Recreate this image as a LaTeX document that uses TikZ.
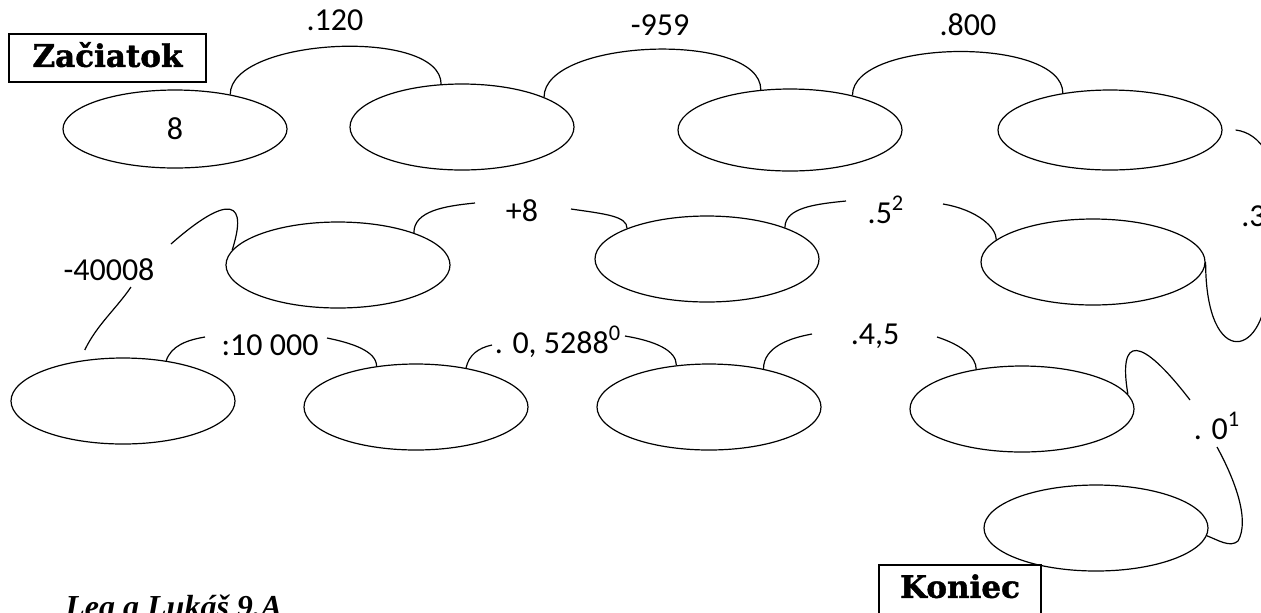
\documentclass[tikz,border=0pt]{standalone}
\usepackage{fontspec}
\setmainfont{Carlito}
\newfontfamily\boxfont{DejaVu Serif}[BoldFeatures={FakeBold=1.4}]
\newfontfamily\signfont{Liberation Serif}
\usetikzlibrary{shapes.geometric}
\begin{document}
\begin{tikzpicture}[x=0.5pt,y=-0.5pt,
  oval/.style={draw, ellipse, minimum width=112pt, minimum height=43pt, inner sep=0pt, line width=0.6pt, font=\fontsize{16}{18}\selectfont},
  link/.style={line width=0.6pt},
  lbl/.style={font=\fontsize{16}{18}\selectfont, inner sep=0pt},
  titlebox/.style={draw, line width=0.8pt, font=\boxfont\bfseries\fontsize{15.5}{18}\selectfont, inner xsep=2pt, inner ysep=4pt, anchor=north}]
\useasboundingbox (0,0) rectangle (1261,612);
% ovals
\node[oval, minimum height=39pt] (e1) at (175,129) {8};
\node[oval, minimum height=43pt] (e2) at (462,127) {};
\node[oval, minimum height=41pt] (e3) at (790,130) {};
\node[oval, minimum height=40pt] (e4) at (1110,130) {};
\node[oval] (e5) at (338,265) {};
\node[oval] (e6) at (707,259) {};
\node[oval] (e7) at (1093,262) {};
\node[oval] (e8) at (123,401) {};
\node[oval] (e9) at (416,407) {};
\node[oval] (e10) at (709,407) {};
\node[oval] (e11) at (1022,409) {};
\node[oval] (e12) at (1096,528) {};
% boxes
\node[titlebox, minimum width=98.5pt, text height=12.5pt, text depth=3.5pt] (start) at (107.5,33) {Začiatok};
\node[titlebox, minimum width=81pt, text height=12.5pt, text depth=10pt] (end) at (960,564) {Koniec};
% labels
\node[lbl] (t1) at (335,20) {.120};
\node[lbl] (t2) at (660,25) {-959};
\node[lbl] (t3) at (968,25) {.800};
\node[lbl, anchor=west] (t4) at (1241,216) {.3};
\node[lbl] (t5) at (109,270) {-40008};
\node[lbl] (t6) at (522,211) {+8};
\node[lbl] (t7) at (886,210) {.5\textsuperscript{2}};
\node[lbl] (t8) at (270,345) {:10 000};
\node[lbl] (t9) at (558,342) {. 0, 5288\textsuperscript{0}};
\node[lbl] (t10) at (875,336) {.4,5};
\node[lbl] (t11) at (1217,426) {. 0\textsuperscript{1}};
\node[anchor=base west, inner sep=0pt, font=\signfont\bfseries\itshape\fontsize{16}{20}\selectfont] (sign) at (65,617) {Lea a Lukáš 9.A};
% free ends
\coordinate (c3a) at (1278,205);
\coordinate (c3b) at (1268,275);
\coordinate (c4a) at (131,287);
\coordinate (c4b) at (171,244);
\coordinate (c5a) at (205,337);
\coordinate (c5b) at (327,338);
\coordinate (c6a) at (492,345);
\coordinate (c6b) at (625,336);
\coordinate (c7a) at (812,334);
\coordinate (c7b) at (937,337);
\coordinate (c8a) at (1190,400);
\coordinate (c8b) at (1217,447);
\coordinate (c9a) at (475,203);
\coordinate (c9b) at (571,209);
\coordinate (c10a) at (846,201);
\coordinate (c10b) at (943,204);
% connectors
\draw[link] (e1.32) .. controls +(0,-57) and +(0,-57) .. (e2.116);
\draw[link] (e2.20) .. controls +(0,-59) and +(0,-59) .. (e3.126);
\draw[link] (e3.29) .. controls +(0,-57) and +(0,-57) .. (e4.142);
\draw[link] ([xshift=6.5pt]e4.east) .. controls +(25,3) and +(0,-45) .. (c3a);
\draw[link] (e7.east) .. controls +(0,110) and +(0,85) .. (c3b);
\draw[link] ([yshift=5pt]e8.133) .. controls +(12,-25) and +(-15,22) .. (c4a);
\draw[link] (c4b) .. controls (215,205) and (252,188) .. (e5.172);
\draw[link] (e5.23) .. controls +(0,-22) and +(-30,3) .. (c9a);
\draw[link] (c9b) .. controls +(35,5) and +(0,-12) .. (e6.159);
\draw[link] (e6.22) .. controls +(0,-20) and +(-30,3) .. (c10a);
\draw[link] (c10b) .. controls +(35,6) and +(0,-12) .. (e7.167);
\draw[link] (e8.43) .. controls +(5,-15) and +(-18,3) .. (c5a);
\draw[link] (c5b) .. controls +(25,5) and +(0,-15) .. (e9.134);
\draw[link] (e9.38) .. controls +(3,-13) and +(-14,3) .. (c6a);
\draw[link] (c6b) .. controls +(30,5) and +(0,-15) .. (e10.128);
\draw[link] (e10.35) .. controls +(0,-22) and +(-22,4) .. (c7a);
\draw[link] (c7b) .. controls +(25,8) and +(0,-12) .. (e11.139);
\draw[link] (e11.8) .. controls (1118,335) and (1140,335) .. (c8a);
\draw[link] (c8b) .. controls (1235,480) and (1250,520) .. (1238,541) .. controls (1230,548) and (1218,540) .. (e12.-4);
\end{tikzpicture}
\end{document}
